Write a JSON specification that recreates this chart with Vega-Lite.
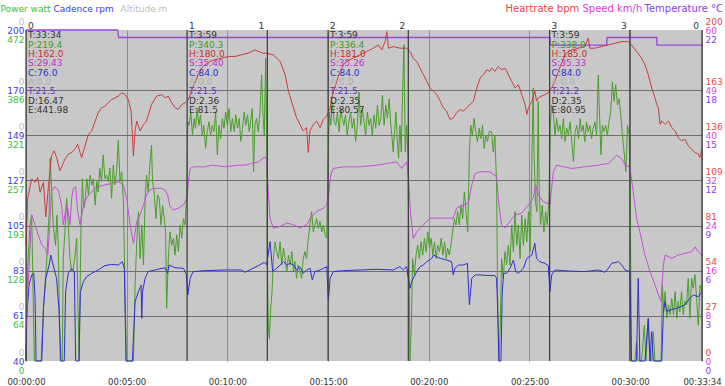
{
"$schema":"https://vega.github.io/schema/vega-lite/v6.json",
"width":676,"height":331,
"autosize":{"type":"none"},
"padding":{"left":26,"top":30,"right":23,"bottom":25},
"background":"white",
"config":{"view":{"fill":"#c8c8c8","stroke":null},"font":"DejaVu Sans",
 "axis":{"domain":false,"ticks":false,"labelFontSize":9,"labelFlush":false,"labelOverlap":false,"labelBound":false,"titleFontWeight":"normal","titleFontSize":9,"titleAngle":0,"titleAlign":"left","titleBaseline":"middle","titleY":-22,"grid":false}},
"datasets":{
"alt":[{"t":0,"alt":0},{"t":2014,"alt":0}],
"temp":[{"t":0,"temp":22},{"t":273,"temp":22},{"t":276,"temp":21.5},{"t":1561,"temp":21.5},{"t":1562,"temp":21.0},{"t":1730,"temp":21.0},{"t":1731,"temp":21.5},{"t":1879,"temp":21.5},{"t":1880,"temp":21.0},{"t":2014,"temp":21.0}],
"hr":[{"t":0,"hr":70},{"t":5,"hr":98},{"t":17,"hr":110},{"t":27,"hr":108},{"t":35,"hr":111},{"t":42,"hr":102},{"t":52,"hr":108},{"t":59,"hr":87},{"t":67,"hr":106},{"t":76,"hr":124},{"t":84,"hr":127},{"t":91,"hr":123},{"t":101,"hr":115},{"t":108,"hr":118},{"t":116,"hr":122},{"t":126,"hr":125},{"t":136,"hr":126},{"t":146,"hr":128},{"t":154,"hr":131},{"t":161,"hr":126},{"t":166,"hr":123},{"t":176,"hr":130},{"t":186,"hr":137},{"t":196,"hr":139},{"t":206,"hr":145},{"t":215,"hr":150},{"t":225,"hr":153},{"t":235,"hr":154},{"t":245,"hr":156},{"t":255,"hr":158},{"t":265,"hr":159},{"t":275,"hr":160},{"t":285,"hr":162},{"t":295,"hr":161},{"t":305,"hr":158},{"t":313,"hr":151},{"t":317,"hr":137},{"t":320,"hr":124},{"t":325,"hr":139},{"t":330,"hr":145},{"t":340,"hr":139},{"t":350,"hr":143},{"t":359,"hr":145},{"t":374,"hr":155},{"t":389,"hr":160},{"t":404,"hr":161},{"t":414,"hr":159},{"t":424,"hr":160},{"t":434,"hr":156},{"t":444,"hr":153},{"t":454,"hr":152},{"t":464,"hr":155},{"t":474,"hr":156},{"t":484,"hr":158},{"t":494,"hr":164},{"t":503,"hr":168},{"t":513,"hr":173},{"t":523,"hr":177},{"t":533,"hr":179},{"t":548,"hr":181},{"t":563,"hr":182},{"t":583,"hr":183},{"t":603,"hr":184},{"t":623,"hr":184},{"t":642,"hr":185},{"t":662,"hr":186},{"t":682,"hr":188},{"t":692,"hr":187},{"t":707,"hr":186},{"t":717,"hr":186},{"t":737,"hr":185},{"t":757,"hr":181},{"t":772,"hr":173},{"t":782,"hr":163},{"t":797,"hr":153},{"t":806,"hr":147},{"t":816,"hr":143},{"t":826,"hr":139},{"t":836,"hr":141},{"t":841,"hr":126},{"t":846,"hr":139},{"t":856,"hr":143},{"t":866,"hr":145},{"t":876,"hr":141},{"t":886,"hr":146},{"t":896,"hr":148},{"t":906,"hr":153},{"t":916,"hr":163},{"t":926,"hr":169},{"t":936,"hr":175},{"t":946,"hr":179},{"t":955,"hr":181},{"t":975,"hr":183},{"t":995,"hr":185},{"t":1015,"hr":187},{"t":1035,"hr":189},{"t":1050,"hr":191},{"t":1060,"hr":188},{"t":1070,"hr":193},{"t":1075,"hr":199},{"t":1080,"hr":189},{"t":1094,"hr":190},{"t":1114,"hr":189},{"t":1134,"hr":189},{"t":1144,"hr":187},{"t":1154,"hr":183},{"t":1164,"hr":181},{"t":1174,"hr":177},{"t":1184,"hr":173},{"t":1194,"hr":169},{"t":1204,"hr":165},{"t":1214,"hr":163},{"t":1224,"hr":161},{"t":1234,"hr":157},{"t":1243,"hr":153},{"t":1253,"hr":151},{"t":1263,"hr":146},{"t":1273,"hr":147},{"t":1283,"hr":150},{"t":1293,"hr":152},{"t":1303,"hr":151},{"t":1313,"hr":153},{"t":1323,"hr":155},{"t":1333,"hr":157},{"t":1343,"hr":165},{"t":1353,"hr":171},{"t":1363,"hr":173},{"t":1373,"hr":176},{"t":1382,"hr":175},{"t":1387,"hr":177},{"t":1397,"hr":175},{"t":1407,"hr":178},{"t":1417,"hr":176},{"t":1427,"hr":177},{"t":1437,"hr":173},{"t":1447,"hr":169},{"t":1457,"hr":165},{"t":1467,"hr":167},{"t":1477,"hr":161},{"t":1487,"hr":155},{"t":1492,"hr":149},{"t":1497,"hr":153},{"t":1507,"hr":157},{"t":1516,"hr":163},{"t":1521,"hr":157},{"t":1526,"hr":159},{"t":1536,"hr":160},{"t":1546,"hr":161},{"t":1556,"hr":162},{"t":1566,"hr":165},{"t":1576,"hr":169},{"t":1586,"hr":175},{"t":1596,"hr":180},{"t":1606,"hr":185},{"t":1616,"hr":187},{"t":1626,"hr":188},{"t":1646,"hr":189},{"t":1665,"hr":190},{"t":1675,"hr":195},{"t":1680,"hr":189},{"t":1695,"hr":189},{"t":1715,"hr":190},{"t":1735,"hr":191},{"t":1755,"hr":192},{"t":1775,"hr":193},{"t":1795,"hr":193},{"t":1804,"hr":191},{"t":1819,"hr":187},{"t":1834,"hr":183},{"t":1844,"hr":179},{"t":1854,"hr":173},{"t":1864,"hr":165},{"t":1874,"hr":159},{"t":1879,"hr":155},{"t":1884,"hr":153},{"t":1889,"hr":143},{"t":1894,"hr":145},{"t":1904,"hr":143},{"t":1914,"hr":145},{"t":1924,"hr":141},{"t":1934,"hr":139},{"t":1943,"hr":135},{"t":1953,"hr":133},{"t":1963,"hr":134},{"t":1973,"hr":130},{"t":1983,"hr":128},{"t":1993,"hr":126},{"t":2003,"hr":125},{"t":2008,"hr":123},{"t":2014,"hr":128}],
"speed":[{"t":0,"speed":5},{"t":2,"speed":8.3},{"t":17,"speed":26.5},{"t":27,"speed":24.7},{"t":37,"speed":22.8},{"t":47,"speed":21.0},{"t":57,"speed":20.4},{"t":65,"speed":19.2},{"t":71,"speed":24.7},{"t":76,"speed":30.7},{"t":86,"speed":31.6},{"t":96,"speed":31.0},{"t":106,"speed":28.3},{"t":111,"speed":24.7},{"t":116,"speed":26.5},{"t":121,"speed":28.3},{"t":126,"speed":27.1},{"t":131,"speed":24.7},{"t":136,"speed":29.5},{"t":141,"speed":31.3},{"t":148,"speed":31.6},{"t":154,"speed":27.1},{"t":161,"speed":24.7},{"t":168,"speed":27.1},{"t":176,"speed":28.9},{"t":186,"speed":30.1},{"t":196,"speed":30.7},{"t":206,"speed":31.3},{"t":215,"speed":31.6},{"t":235,"speed":31.9},{"t":255,"speed":32.2},{"t":275,"speed":32.5},{"t":290,"speed":31.9},{"t":300,"speed":29.5},{"t":310,"speed":24.7},{"t":320,"speed":21.3},{"t":330,"speed":25.3},{"t":340,"speed":26.5},{"t":350,"speed":28.3},{"t":359,"speed":30.1},{"t":369,"speed":31.0},{"t":384,"speed":31.3},{"t":404,"speed":31.3},{"t":414,"speed":31.0},{"t":422,"speed":30.1},{"t":429,"speed":28.0},{"t":439,"speed":27.4},{"t":454,"speed":27.7},{"t":469,"speed":28.3},{"t":479,"speed":29.5},{"t":484,"speed":32.5},{"t":489,"speed":34.9},{"t":499,"speed":35.2},{"t":534,"speed":35.2},{"t":553,"speed":35.5},{"t":593,"speed":35.2},{"t":633,"speed":35.5},{"t":652,"speed":35.5},{"t":672,"speed":35.8},{"t":692,"speed":36.1},{"t":712,"speed":37.0},{"t":717,"speed":36.4},{"t":722,"speed":30.7},{"t":727,"speed":25.9},{"t":737,"speed":24.1},{"t":757,"speed":24.4},{"t":777,"speed":25.0},{"t":797,"speed":24.7},{"t":816,"speed":24.1},{"t":836,"speed":24.7},{"t":851,"speed":26.2},{"t":866,"speed":27.1},{"t":886,"speed":27.7},{"t":896,"speed":28.3},{"t":901,"speed":29.8},{"t":908,"speed":33.7},{"t":916,"speed":34.9},{"t":946,"speed":35.2},{"t":995,"speed":35.2},{"t":1045,"speed":35.5},{"t":1075,"speed":35.8},{"t":1104,"speed":36.1},{"t":1119,"speed":34.9},{"t":1134,"speed":36.1},{"t":1139,"speed":33.7},{"t":1146,"speed":26.5},{"t":1154,"speed":22.2},{"t":1164,"speed":23.4},{"t":1184,"speed":24.7},{"t":1204,"speed":25.9},{"t":1224,"speed":25.9},{"t":1253,"speed":25.9},{"t":1273,"speed":25.9},{"t":1283,"speed":27.7},{"t":1303,"speed":28.3},{"t":1318,"speed":28.6},{"t":1328,"speed":31.9},{"t":1338,"speed":34.0},{"t":1353,"speed":34.3},{"t":1382,"speed":34.3},{"t":1402,"speed":33.4},{"t":1409,"speed":28.3},{"t":1417,"speed":24.7},{"t":1427,"speed":24.1},{"t":1442,"speed":25.3},{"t":1457,"speed":26.5},{"t":1477,"speed":26.8},{"t":1497,"speed":28.3},{"t":1511,"speed":29.5},{"t":1518,"speed":31.9},{"t":1526,"speed":30.1},{"t":1541,"speed":28.9},{"t":1561,"speed":28.3},{"t":1571,"speed":34.3},{"t":1581,"speed":35.5},{"t":1626,"speed":34.9},{"t":1665,"speed":35.2},{"t":1705,"speed":35.5},{"t":1735,"speed":35.8},{"t":1750,"speed":36.7},{"t":1760,"speed":37.3},{"t":1775,"speed":36.7},{"t":1785,"speed":35.5},{"t":1799,"speed":35.2},{"t":1809,"speed":30.7},{"t":1819,"speed":25.9},{"t":1829,"speed":23.4},{"t":1844,"speed":19.2},{"t":1859,"speed":16.2},{"t":1874,"speed":13.8},{"t":1884,"speed":12.0},{"t":1892,"speed":10.8},{"t":1899,"speed":17.4},{"t":1904,"speed":19.2},{"t":1924,"speed":18.6},{"t":1943,"speed":19.2},{"t":1963,"speed":19.5},{"t":1983,"speed":19.8},{"t":1993,"speed":20.7},{"t":2003,"speed":19.8},{"t":2014,"speed":19.2}],
"cadence":[{"t":0,"cadence":0},{"t":2,"cadence":60.6},{"t":9,"cadence":76.7},{"t":17,"cadence":81.6},{"t":23,"cadence":82.4},{"t":27,"cadence":70.3},{"t":30,"cadence":0},{"t":47,"cadence":0},{"t":52,"cadence":65.5},{"t":59,"cadence":80},{"t":69,"cadence":86.4},{"t":74,"cadence":91.2},{"t":81,"cadence":86.4},{"t":91,"cadence":80},{"t":98,"cadence":65.5},{"t":104,"cadence":0},{"t":114,"cadence":0},{"t":118,"cadence":73.5},{"t":126,"cadence":82.4},{"t":136,"cadence":84.8},{"t":144,"cadence":83.2},{"t":148,"cadence":0},{"t":158,"cadence":0},{"t":162,"cadence":73.5},{"t":171,"cadence":78.4},{"t":181,"cadence":80.8},{"t":196,"cadence":82.4},{"t":215,"cadence":84},{"t":235,"cadence":86.1},{"t":255,"cadence":86.7},{"t":275,"cadence":86.4},{"t":287,"cadence":88},{"t":293,"cadence":84.8},{"t":298,"cadence":0},{"t":317,"cadence":0},{"t":325,"cadence":68.7},{"t":335,"cadence":73.5},{"t":343,"cadence":76.7},{"t":345,"cadence":60.6},{"t":347,"cadence":73.5},{"t":355,"cadence":80},{"t":364,"cadence":83.2},{"t":384,"cadence":84},{"t":414,"cadence":85.1},{"t":422,"cadence":82.4},{"t":426,"cadence":86.4},{"t":444,"cadence":85.1},{"t":469,"cadence":84.8},{"t":477,"cadence":82.4},{"t":482,"cadence":71.9},{"t":489,"cadence":80},{"t":498,"cadence":83.2},{"t":533,"cadence":83.7},{"t":593,"cadence":84},{"t":642,"cadence":84},{"t":652,"cadence":82.9},{"t":667,"cadence":84},{"t":692,"cadence":86.1},{"t":710,"cadence":87.7},{"t":717,"cadence":86.4},{"t":727,"cadence":97.7},{"t":735,"cadence":83.2},{"t":747,"cadence":84.8},{"t":757,"cadence":86.4},{"t":767,"cadence":88},{"t":777,"cadence":86.4},{"t":787,"cadence":87.2},{"t":797,"cadence":86.4},{"t":806,"cadence":84},{"t":816,"cadence":85.6},{"t":826,"cadence":82.4},{"t":836,"cadence":84},{"t":846,"cadence":84.8},{"t":853,"cadence":79.2},{"t":861,"cadence":83.2},{"t":876,"cadence":84},{"t":896,"cadence":85.6},{"t":901,"cadence":69.5},{"t":906,"cadence":80},{"t":916,"cadence":83.2},{"t":946,"cadence":83.7},{"t":995,"cadence":84},{"t":1045,"cadence":84.3},{"t":1094,"cadence":84},{"t":1114,"cadence":85.6},{"t":1124,"cadence":84},{"t":1134,"cadence":85.6},{"t":1139,"cadence":80},{"t":1144,"cadence":75.1},{"t":1149,"cadence":78.4},{"t":1154,"cadence":80},{"t":1164,"cadence":83.2},{"t":1174,"cadence":85.6},{"t":1184,"cadence":86.4},{"t":1194,"cadence":88},{"t":1209,"cadence":89.6},{"t":1214,"cadence":91.2},{"t":1234,"cadence":89.6},{"t":1253,"cadence":88.8},{"t":1268,"cadence":88},{"t":1273,"cadence":81.6},{"t":1278,"cadence":84.8},{"t":1288,"cadence":86.4},{"t":1303,"cadence":86.4},{"t":1315,"cadence":87.2},{"t":1321,"cadence":67.1},{"t":1328,"cadence":80},{"t":1338,"cadence":81.6},{"t":1353,"cadence":81.6},{"t":1382,"cadence":81.3},{"t":1397,"cadence":81.3},{"t":1402,"cadence":80},{"t":1405,"cadence":65.5},{"t":1409,"cadence":0},{"t":1415,"cadence":0},{"t":1419,"cadence":73.5},{"t":1423,"cadence":82.4},{"t":1432,"cadence":82.4},{"t":1442,"cadence":84.8},{"t":1452,"cadence":88.8},{"t":1459,"cadence":83.2},{"t":1467,"cadence":82.4},{"t":1482,"cadence":84.8},{"t":1492,"cadence":89.6},{"t":1507,"cadence":91.2},{"t":1516,"cadence":96.9},{"t":1521,"cadence":89.6},{"t":1531,"cadence":88},{"t":1546,"cadence":87.2},{"t":1556,"cadence":86.1},{"t":1561,"cadence":73.5},{"t":1566,"cadence":81.6},{"t":1576,"cadence":84},{"t":1616,"cadence":83.5},{"t":1665,"cadence":83.2},{"t":1705,"cadence":84},{"t":1725,"cadence":82.9},{"t":1735,"cadence":84.8},{"t":1745,"cadence":87.2},{"t":1765,"cadence":88},{"t":1775,"cadence":86.4},{"t":1785,"cadence":84},{"t":1799,"cadence":83.2},{"t":1804,"cadence":0},{"t":1819,"cadence":0},{"t":1824,"cadence":80},{"t":1829,"cadence":0},{"t":1844,"cadence":0},{"t":1854,"cadence":60.6},{"t":1859,"cadence":0},{"t":1864,"cadence":54.2},{"t":1869,"cadence":0},{"t":1894,"cadence":0},{"t":1899,"cadence":63.9},{"t":1904,"cadence":68.7},{"t":1909,"cadence":63.9},{"t":1919,"cadence":64.7},{"t":1939,"cadence":65.5},{"t":1963,"cadence":67.1},{"t":1978,"cadence":70.3},{"t":1988,"cadence":71.9},{"t":2003,"cadence":71.1},{"t":2014,"cadence":73.5}],
"power":[{"t":0,"power":0},{"t":5,"power":137},{"t":12,"power":194},{"t":17,"power":208},{"t":21,"power":99},{"t":25,"power":0},{"t":45,"power":0},{"t":52,"power":75},{"t":62,"power":146},{"t":69,"power":213},{"t":72,"power":289},{"t":76,"power":251},{"t":81,"power":194},{"t":88,"power":165},{"t":92,"power":208},{"t":96,"power":165},{"t":102,"power":0},{"t":108,"power":0},{"t":111,"power":146},{"t":116,"power":184},{"t":121,"power":232},{"t":126,"power":194},{"t":131,"power":146},{"t":136,"power":127},{"t":141,"power":132},{"t":146,"power":151},{"t":151,"power":175},{"t":154,"power":99},{"t":158,"power":0},{"t":164,"power":194},{"t":168,"power":260},{"t":172,"power":218},{"t":176,"power":227},{"t":181,"power":260},{"t":186,"power":237},{"t":191,"power":265},{"t":196,"power":251},{"t":201,"power":260},{"t":206,"power":222},{"t":211,"power":256},{"t":215,"power":241},{"t":220,"power":275},{"t":225,"power":256},{"t":230,"power":294},{"t":235,"power":260},{"t":240,"power":265},{"t":245,"power":256},{"t":250,"power":275},{"t":255,"power":232},{"t":260,"power":279},{"t":265,"power":251},{"t":270,"power":270},{"t":275,"power":315},{"t":280,"power":256},{"t":285,"power":270},{"t":290,"power":232},{"t":295,"power":99},{"t":299,"power":0},{"t":320,"power":0},{"t":325,"power":108},{"t":330,"power":170},{"t":335,"power":213},{"t":340,"power":146},{"t":345,"power":194},{"t":350,"power":137},{"t":355,"power":232},{"t":359,"power":265},{"t":364,"power":241},{"t":369,"power":279},{"t":374,"power":308},{"t":377,"power":256},{"t":382,"power":241},{"t":387,"power":203},{"t":392,"power":237},{"t":397,"power":232},{"t":402,"power":194},{"t":407,"power":222},{"t":412,"power":203},{"t":416,"power":184},{"t":419,"power":75},{"t":424,"power":146},{"t":429,"power":184},{"t":434,"power":165},{"t":439,"power":175},{"t":444,"power":151},{"t":449,"power":180},{"t":454,"power":156},{"t":459,"power":194},{"t":464,"power":175},{"t":469,"power":203},{"t":474,"power":194},{"t":479,"power":241},{"t":482,"power":341},{"t":486,"power":336},{"t":491,"power":355},{"t":496,"power":322},{"t":501,"power":346},{"t":505,"power":332},{"t":510,"power":360},{"t":515,"power":336},{"t":520,"power":351},{"t":525,"power":322},{"t":530,"power":336},{"t":535,"power":303},{"t":540,"power":327},{"t":545,"power":341},{"t":550,"power":322},{"t":555,"power":336},{"t":560,"power":327},{"t":565,"power":355},{"t":570,"power":294},{"t":575,"power":336},{"t":580,"power":317},{"t":585,"power":346},{"t":590,"power":332},{"t":595,"power":355},{"t":600,"power":336},{"t":605,"power":360},{"t":610,"power":327},{"t":615,"power":346},{"t":620,"power":327},{"t":625,"power":351},{"t":630,"power":332},{"t":635,"power":346},{"t":640,"power":313},{"t":645,"power":332},{"t":650,"power":355},{"t":655,"power":336},{"t":660,"power":351},{"t":665,"power":327},{"t":669,"power":341},{"t":674,"power":360},{"t":678,"power":270},{"t":682,"power":336},{"t":687,"power":346},{"t":692,"power":327},{"t":697,"power":355},{"t":702,"power":408},{"t":706,"power":351},{"t":710,"power":322},{"t":714,"power":432},{"t":717,"power":322},{"t":719,"power":146},{"t":722,"power":51},{"t":725,"power":32},{"t":729,"power":75},{"t":733,"power":99},{"t":737,"power":146},{"t":742,"power":170},{"t":747,"power":156},{"t":752,"power":146},{"t":757,"power":170},{"t":762,"power":137},{"t":767,"power":161},{"t":772,"power":146},{"t":777,"power":127},{"t":782,"power":151},{"t":787,"power":137},{"t":792,"power":156},{"t":797,"power":127},{"t":801,"power":142},{"t":806,"power":118},{"t":811,"power":137},{"t":816,"power":127},{"t":821,"power":118},{"t":826,"power":146},{"t":831,"power":156},{"t":836,"power":146},{"t":841,"power":175},{"t":846,"power":194},{"t":851,"power":213},{"t":856,"power":184},{"t":861,"power":194},{"t":866,"power":203},{"t":871,"power":189},{"t":876,"power":199},{"t":881,"power":184},{"t":886,"power":194},{"t":891,"power":180},{"t":896,"power":175},{"t":901,"power":313},{"t":904,"power":355},{"t":908,"power":336},{"t":913,"power":370},{"t":918,"power":341},{"t":923,"power":336},{"t":928,"power":355},{"t":933,"power":327},{"t":938,"power":360},{"t":942,"power":346},{"t":947,"power":336},{"t":952,"power":351},{"t":957,"power":322},{"t":962,"power":341},{"t":967,"power":355},{"t":972,"power":332},{"t":977,"power":346},{"t":982,"power":313},{"t":987,"power":336},{"t":992,"power":384},{"t":997,"power":336},{"t":1002,"power":360},{"t":1007,"power":341},{"t":1012,"power":322},{"t":1017,"power":355},{"t":1022,"power":336},{"t":1027,"power":346},{"t":1032,"power":322},{"t":1037,"power":351},{"t":1042,"power":332},{"t":1047,"power":365},{"t":1052,"power":336},{"t":1057,"power":346},{"t":1062,"power":379},{"t":1067,"power":336},{"t":1072,"power":365},{"t":1077,"power":346},{"t":1082,"power":374},{"t":1087,"power":336},{"t":1090,"power":322},{"t":1094,"power":298},{"t":1098,"power":327},{"t":1102,"power":355},{"t":1106,"power":317},{"t":1110,"power":289},{"t":1114,"power":336},{"t":1118,"power":298},{"t":1122,"power":384},{"t":1126,"power":451},{"t":1130,"power":298},{"t":1134,"power":336},{"t":1138,"power":289},{"t":1141,"power":146},{"t":1144,"power":0},{"t":1148,"power":51},{"t":1152,"power":146},{"t":1157,"power":123},{"t":1162,"power":151},{"t":1167,"power":165},{"t":1172,"power":146},{"t":1177,"power":170},{"t":1182,"power":151},{"t":1187,"power":175},{"t":1192,"power":156},{"t":1197,"power":184},{"t":1202,"power":161},{"t":1207,"power":175},{"t":1212,"power":151},{"t":1217,"power":170},{"t":1222,"power":146},{"t":1227,"power":165},{"t":1232,"power":156},{"t":1237,"power":175},{"t":1242,"power":151},{"t":1247,"power":170},{"t":1252,"power":146},{"t":1256,"power":161},{"t":1261,"power":151},{"t":1266,"power":165},{"t":1271,"power":184},{"t":1276,"power":203},{"t":1281,"power":194},{"t":1286,"power":213},{"t":1291,"power":194},{"t":1296,"power":222},{"t":1301,"power":203},{"t":1306,"power":241},{"t":1311,"power":213},{"t":1316,"power":184},{"t":1321,"power":298},{"t":1325,"power":336},{"t":1330,"power":322},{"t":1335,"power":346},{"t":1340,"power":327},{"t":1345,"power":313},{"t":1350,"power":332},{"t":1355,"power":317},{"t":1360,"power":336},{"t":1365,"power":303},{"t":1370,"power":322},{"t":1375,"power":313},{"t":1380,"power":327},{"t":1387,"power":327},{"t":1392,"power":298},{"t":1397,"power":322},{"t":1402,"power":251},{"t":1405,"power":99},{"t":1409,"power":0},{"t":1413,"power":51},{"t":1417,"power":146},{"t":1422,"power":118},{"t":1427,"power":156},{"t":1432,"power":137},{"t":1437,"power":165},{"t":1442,"power":137},{"t":1447,"power":194},{"t":1452,"power":156},{"t":1457,"power":213},{"t":1462,"power":165},{"t":1467,"power":194},{"t":1472,"power":146},{"t":1477,"power":208},{"t":1482,"power":165},{"t":1487,"power":203},{"t":1492,"power":170},{"t":1497,"power":213},{"t":1502,"power":156},{"t":1507,"power":279},{"t":1511,"power":389},{"t":1514,"power":289},{"t":1518,"power":227},{"t":1522,"power":213},{"t":1526,"power":370},{"t":1529,"power":241},{"t":1533,"power":194},{"t":1538,"power":222},{"t":1543,"power":184},{"t":1548,"power":213},{"t":1553,"power":194},{"t":1558,"power":232},{"t":1562,"power":336},{"t":1566,"power":365},{"t":1571,"power":355},{"t":1576,"power":322},{"t":1581,"power":346},{"t":1586,"power":327},{"t":1591,"power":336},{"t":1596,"power":317},{"t":1601,"power":346},{"t":1606,"power":313},{"t":1611,"power":332},{"t":1616,"power":322},{"t":1621,"power":341},{"t":1626,"power":313},{"t":1631,"power":284},{"t":1636,"power":327},{"t":1641,"power":336},{"t":1646,"power":317},{"t":1651,"power":346},{"t":1655,"power":327},{"t":1660,"power":336},{"t":1665,"power":313},{"t":1670,"power":341},{"t":1675,"power":327},{"t":1680,"power":336},{"t":1685,"power":317},{"t":1690,"power":332},{"t":1695,"power":341},{"t":1700,"power":322},{"t":1705,"power":408},{"t":1709,"power":346},{"t":1713,"power":294},{"t":1717,"power":336},{"t":1722,"power":327},{"t":1727,"power":336},{"t":1732,"power":322},{"t":1737,"power":341},{"t":1742,"power":355},{"t":1747,"power":398},{"t":1752,"power":370},{"t":1757,"power":394},{"t":1762,"power":365},{"t":1767,"power":374},{"t":1772,"power":351},{"t":1777,"power":322},{"t":1782,"power":298},{"t":1787,"power":270},{"t":1792,"power":336},{"t":1797,"power":322},{"t":1800,"power":241},{"t":1804,"power":0},{"t":1814,"power":0},{"t":1819,"power":28},{"t":1824,"power":0},{"t":1834,"power":0},{"t":1842,"power":51},{"t":1847,"power":0},{"t":1854,"power":61},{"t":1859,"power":0},{"t":1864,"power":0},{"t":1869,"power":42},{"t":1874,"power":0},{"t":1892,"power":0},{"t":1896,"power":108},{"t":1900,"power":70},{"t":1904,"power":99},{"t":1909,"power":61},{"t":1914,"power":80},{"t":1919,"power":66},{"t":1924,"power":89},{"t":1929,"power":66},{"t":1934,"power":99},{"t":1939,"power":61},{"t":1943,"power":85},{"t":1948,"power":70},{"t":1953,"power":99},{"t":1958,"power":66},{"t":1963,"power":85},{"t":1968,"power":80},{"t":1973,"power":118},{"t":1978,"power":61},{"t":1983,"power":118},{"t":1988,"power":104},{"t":1993,"power":123},{"t":1998,"power":89},{"t":2003,"power":51},{"t":2008,"power":108},{"t":2014,"power":99}],
"laplines":[{"t":0},{"t":480},{"t":719},{"t":900},{"t":1139},{"t":1560},{"t":1799},{"t":2014}],
"lapends":[{"t":719,"row":0,"text":"1"},{"t":1139,"row":0,"text":"2"},{"t":1799,"row":0,"text":"3"},{"t":2014,"row":0,"text":"0"}],
"stats":[
{"t":0,"row":0,"key":"num","text":"0"},{"t":0,"row":1,"key":"time","text":"T:33:34"},{"t":0,"row":2,"key":"P","text":"P:219.4"},{"t":0,"row":3,"key":"H","text":"H:162.0"},{"t":0,"row":4,"key":"S","text":"S:29.43"},{"t":0,"row":5,"key":"C","text":"C:76.0"},{"t":0,"row":6,"key":"A","text":"A:0.0"},{"t":0,"row":7,"key":"Temp","text":"T:21.5"},{"t":0,"row":8,"key":"D","text":"D:16.47"},{"t":0,"row":9,"key":"E","text":"E:441.98"},
{"t":480,"row":0,"key":"num","text":"1"},{"t":480,"row":1,"key":"time","text":"T:3:59"},{"t":480,"row":2,"key":"P","text":"P:340.3"},{"t":480,"row":3,"key":"H","text":"H:180.0"},{"t":480,"row":4,"key":"S","text":"S:35.40"},{"t":480,"row":5,"key":"C","text":"C:84.0"},{"t":480,"row":6,"key":"A","text":"A:0.0"},{"t":480,"row":7,"key":"Temp","text":"T:21.5"},{"t":480,"row":8,"key":"D","text":"D:2.36"},{"t":480,"row":9,"key":"E","text":"E:81.5"},
{"t":900,"row":0,"key":"num","text":"2"},{"t":900,"row":1,"key":"time","text":"T:3:59"},{"t":900,"row":2,"key":"P","text":"P:336.4"},{"t":900,"row":3,"key":"H","text":"H:181.0"},{"t":900,"row":4,"key":"S","text":"S:35.26"},{"t":900,"row":5,"key":"C","text":"C:84.0"},{"t":900,"row":6,"key":"A","text":"A:0.0"},{"t":900,"row":7,"key":"Temp","text":"T:21.5"},{"t":900,"row":8,"key":"D","text":"D:2.35"},{"t":900,"row":9,"key":"E","text":"E:80.57"},
{"t":1560,"row":0,"key":"num","text":"3"},{"t":1560,"row":1,"key":"time","text":"T:3:59"},{"t":1560,"row":2,"key":"P","text":"P:338.0"},{"t":1560,"row":3,"key":"H","text":"H:185.0"},{"t":1560,"row":4,"key":"S","text":"S:35.33"},{"t":1560,"row":5,"key":"C","text":"C:84.0"},{"t":1560,"row":6,"key":"A","text":"A:0.0"},{"t":1560,"row":7,"key":"Temp","text":"T:21.2"},{"t":1560,"row":8,"key":"D","text":"D:2.35"},{"t":1560,"row":9,"key":"E","text":"E:80.95"}]
},
"encoding":{"x":{"field":"t","type":"quantitative","scale":{"domain":[0,2014],"nice":false,"zero":false},
 "axis":{"orient":"bottom","values":[0,300,600,900,1200,1500,1800,2014],"labelExpr":"utcFormat(datum.value*1000,'%H:%M:%S')","labelColor":"#333333","labelFontSize":8.5,"labelPadding":16,"grid":true,"gridColor":"#8c8c8c","title":null}}},
"layer":[
{"data":{"name":"alt"},"mark":{"type":"line","strokeOpacity":0},
 "encoding":{"y":{"field":"alt","type":"quantitative","scale":{"domain":[0,1],"nice":false,"zero":false},
  "axis":{"orient":"left","values":[0,0.136364,0.272727,0.409091,0.545455,0.681818,0.818182,1],"labelExpr":"'0'","labelColor":"#bbbbbb","labelOffset":-9,"labelPadding":2,"title":"Altitude m","titleColor":"#bbbbbb","titleX":94}}}},
{"data":{"name":"temp"},"mark":{"type":"line","color":"#9b45dc","strokeWidth":1.3},
 "encoding":{"y":{"field":"temp","type":"quantitative","scale":{"domain":[0,22],"nice":false,"zero":false},
  "axis":{"orient":"right","values":[0,3,6,9,12,15,18,22],"labelExpr":"floor(datum.value+0.01)","labelColor":"#8a3ee8","labelOffset":9,"labelPadding":3,"title":"Temperature °C","titleFontSize":10,"titleColor":"#8a3ee8","titleX":-58}}}},
{"data":{"name":"power"},"mark":{"type":"line","color":"#4a9e2a","strokeWidth":1},
 "encoding":{"y":{"field":"power","type":"quantitative","scale":{"domain":[0,472],"nice":false,"zero":false},
  "axis":{"orient":"left","values":[0,64.364,128.727,193.091,257.455,321.818,386.182,472],"labelExpr":"floor(datum.value+0.01)","labelColor":"#3cbf3c","labelOffset":9,"labelPadding":2,"title":"Power watt","titleColor":"#3cbf3c","titleX":-26}}}},
{"data":{"name":"cadence"},"mark":{"type":"line","color":"#2f2fd0","strokeWidth":1},
 "encoding":{"y":{"field":"cadence","type":"quantitative","scale":{"domain":[40,200],"nice":false,"zero":false,"clamp":true},
  "axis":{"orient":"left","values":[40,61.818,83.636,105.455,127.273,149.091,170.909,200],"labelExpr":"floor(datum.value+0.01)","labelColor":"#3a3aee","labelPadding":2,"grid":true,"gridColor":"#6e6e6e","gridOpacity":{"condition":{"test":"datum.value<41 || datum.value>199","value":0},"value":1},"title":"Cadence rpm","titleColor":"#3a3aee","titleX":27}}}},
{"data":{"name":"speed"},"mark":{"type":"line","color":"#c54ed8","strokeWidth":1},
 "encoding":{"y":{"field":"speed","type":"quantitative","scale":{"domain":[0,60],"nice":false,"zero":false},
  "axis":{"orient":"right","values":[0,8.182,16.364,24.545,32.727,40.909,49.091,60],"labelExpr":"floor(datum.value+0.01)","labelColor":"#e040e0","labelPadding":3,"title":"Speed km/h","titleFontSize":10,"titleColor":"#e040e0","titleX":-120}}}},
{"data":{"name":"hr"},"mark":{"type":"line","color":"#c83c3c","strokeWidth":1},
 "encoding":{"y":{"field":"hr","type":"quantitative","scale":{"domain":[0,200],"nice":false,"zero":false},
  "axis":{"orient":"right","values":[0,27.273,54.545,81.818,109.091,136.364,163.636,200],"labelExpr":"floor(datum.value+0.01)","labelColor":"#ee4646","labelOffset":-9,"labelPadding":3,"title":"Heartrate bpm","titleFontSize":10,"titleColor":"#ee4646","titleX":-197}}}},
{"data":{"name":"laplines"},"mark":{"type":"rule","color":"#3a3a3a","strokeWidth":1.2},"encoding":{}},
{"data":{"name":"stats"},"mark":{"type":"text","align":"left","baseline":"middle","dx":2,"fontSize":9},
 "encoding":{"y":{"field":"row","type":"quantitative","scale":{"domain":[0.41,36],"reverse":true,"nice":false,"zero":false},"axis":null},
  "text":{"field":"text"},
  "color":{"field":"key","type":"nominal","legend":null,"scale":{"domain":["num","time","P","H","S","C","A","Temp","D","E"],"range":["#333333","#333333","#3a9a20","#c03030","#c030c8","#3030c8","#b0b0b0","#7030c8","#333333","#333333"]}}}},
{"data":{"name":"lapends"},"mark":{"type":"text","align":"right","baseline":"middle","dx":-3,"fontSize":9,"color":"#333333"},
 "encoding":{"y":{"field":"row","type":"quantitative","scale":{"domain":[0.41,36],"reverse":true,"nice":false,"zero":false},"axis":null},
  "text":{"field":"text"}}}
],
"resolve":{"scale":{"y":"independent"}}
}
